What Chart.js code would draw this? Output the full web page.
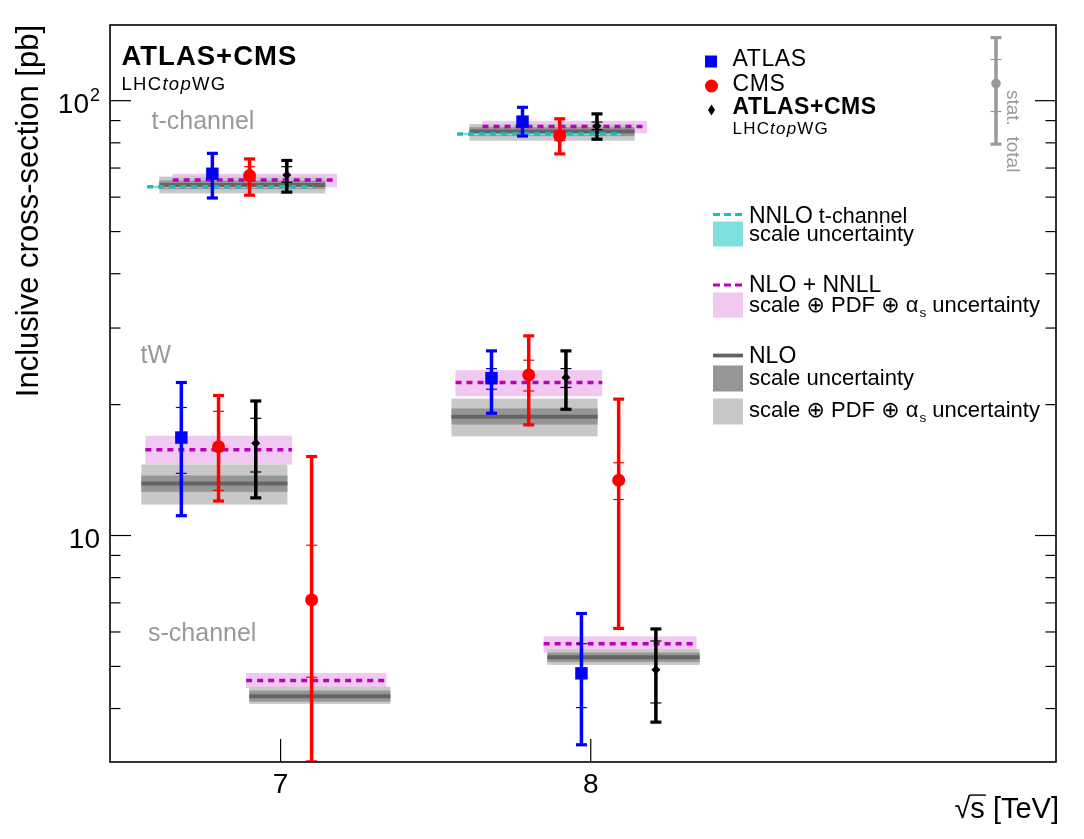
<!DOCTYPE html>
<html>
<head>
<meta charset="utf-8">
<script src="https://cdn.jsdelivr.net/npm/chart.js@4/dist/chart.umd.min.js"></script>
<style>
html,body{margin:0;padding:0;background:#ffffff;}
canvas{display:block;}
</style>
</head>
<body>
<canvas id="c" width="1084" height="839"></canvas>
<script>
// ---------------- axis / tick data ----------------
const xMin = 6.45, xMax = 9.5;
const yMin = 3.014, yMax = 149.3;
const xTickValues = [7, 8];
const xTickLabels = ['7', '8'];
const yTickValues = [3, 4, 5, 6, 7, 8, 9, 10, 20, 30, 40, 50, 60, 70, 80, 90, 100];
const yLabelValues = [10, 100];
const yLabelBase = ['10', '10'];
const yLabelSup = ['', '2'];

// ---------------- measurements ----------------
// order: t-ch 7, t-ch 8, tW 7, tW 8, s-ch 8
const atlasX      = [6.78, 7.78, 6.68, 7.68, 7.97];
const atlasVal    = [67.9, 89.5, 16.8, 23.0, 4.82];
const atlasTotLo  = [59.7, 82.9, 11.1, 19.1, 3.30];
const atlasTotHi  = [75.7, 96.6, 22.5, 26.6, 6.62];
const atlasStatLo = [66.3, 87.6, 13.9, 21.7, 4.02];
const atlasStatHi = [69.5, 91.4, 19.7, 24.2, 5.64];

// order: t-ch 7, t-ch 8, tW 7, tW 8, s-ch 7, s-ch 8
const cmsX      = [6.90, 7.90, 6.80, 7.80, 7.10, 8.09];
const cmsVal    = [67.25, 83.1, 16.0, 23.4, 7.11, 13.4];
const cmsTotLo  = [60.6, 75.4, 12.0, 17.96, 3.014, 6.11];
const cmsTotHi  = [73.5, 90.9, 21.0, 28.8, 15.2, 20.6];
const cmsStatLo = [64.0, 81.0, 12.7, 21.5, 4.72, 12.1];
const cmsStatHi = [70.5, 85.2, 19.3, 25.3, 9.5, 14.7];

// order: t-ch 7, t-ch 8, tW 7, tW 8, s-ch 8
const combX      = [7.02, 8.02, 6.92, 7.92, 8.21];
const combVal    = [67.5, 87.5, 16.3, 23.1, 4.91];
const combTotLo  = [61.6, 81.5, 12.2, 19.5, 3.72];
const combTotHi  = [72.9, 93.3, 20.4, 26.6, 6.10];
const combStatLo = [64.9, 85.8, 14.0, 21.9, 4.12];
const combStatHi = [70.5, 89.3, 18.6, 24.2, 5.72];

// ---------------- theory ----------------
// NNLO t-channel (7, 8 TeV)
const nnloXLo = [6.570, 7.569];
const nnloXHi = [7.105, 8.096];
const nnloVal = [63.4, 83.8];
const nnloLo  = [63.0, 83.3];
const nnloHi  = [63.8, 84.3];
// NLO+NNLL: t7, t8, tW7, tW8, s7, s8
const nnllXLo = [6.652, 7.651, 6.564, 7.564, 6.889, 7.848];
const nnllXHi = [7.182, 8.182, 7.037, 8.037, 7.341, 8.341];
const nnllVal = [65.7, 87.2, 15.75, 22.5, 4.64, 5.64];
const nnllLo  = [63.2, 84.1, 14.56, 20.9, 4.46, 5.38];
const nnllHi  = [67.9, 89.9, 16.96, 24.0, 4.83, 5.86];
// NLO: t7, t8, tW7, tW8, s7, s8
const nloXLo     = [6.609, 7.609, 6.551, 7.551, 6.899, 7.860];
const nloXHi     = [7.144, 8.141, 7.022, 8.022, 7.354, 8.351];
const nloVal     = [64.0, 84.9, 13.17, 18.75, 4.27, 5.25];
const nloScaleLo = [62.6, 82.9, 12.6, 18.0, 4.15, 5.12];
const nloScaleHi = [65.5, 86.9, 13.74, 19.6, 4.40, 5.38];
const nloTotLo   = [61.2, 80.9, 11.78, 16.9, 4.10, 5.04];
const nloTotHi   = [66.9, 88.4, 14.56, 20.65, 4.49, 5.48];

// ---------------- styles ----------------
const FONT = '"Liberation Sans", Arial, Helvetica, "DejaVu Sans", sans-serif';
const C_PINK = '#f0c8f0', C_MAG = '#bb00bb';
const C_CYANBAND = '#80e0e0', C_CYAN = '#20bcbc';
const C_LGRAY = '#c8c8c8', C_DGRAY = '#969696', C_NLO = '#646464';
const C_LABEL = '#999999';

function mkLine(xl, xh, v, color, width, dash, order) {
  return {type: 'line', data: [{x: xl, y: v}, {x: xh, y: v}], borderColor: color,
    borderWidth: width, borderDash: dash, borderCapStyle: 'butt', pointRadius: 0,
    pointHoverRadius: 0, fill: false, tension: 0, order: order};
}

const datasets = [];
nloVal.forEach((v, i) => datasets.push(mkLine(nloXLo[i], nloXHi[i], v, C_NLO, 4, [], 30)));
nnloVal.forEach((v, i) => datasets.push(mkLine(nnloXLo[i], nnloXHi[i], v, C_CYAN, 3.5, [6, 5], 20)));
nnllVal.forEach((v, i) => datasets.push(mkLine(nnllXLo[i], nnllXHi[i], v, C_MAG, 3.5, [6, 5], 10)));

datasets.push({type: 'scatter', label: 'ATLAS', order: 3, pointStyle: 'rect', pointRadius: 8.8,
  backgroundColor: '#0000ff', borderColor: '#0000ff', borderWidth: 0,
  data: atlasX.map((x, i) => ({x: x, y: atlasVal[i]})),
  err: {x: atlasX, lo: atlasTotLo, hi: atlasTotHi, slo: atlasStatLo, shi: atlasStatHi, color: '#0000ff'}});
datasets.push({type: 'scatter', label: 'CMS', order: 2, pointStyle: 'circle', pointRadius: 6.5,
  backgroundColor: '#ff0000', borderColor: '#ff0000', borderWidth: 0,
  data: cmsX.map((x, i) => ({x: x, y: cmsVal[i]})),
  err: {x: cmsX, lo: cmsTotLo, hi: cmsTotHi, slo: cmsStatLo, shi: cmsStatHi, color: '#ff0000'}});
datasets.push({type: 'scatter', label: 'ATLAS+CMS', order: 1, pointStyle: 'rectRot', pointRadius: 4.5,
  backgroundColor: '#000000', borderColor: '#000000', borderWidth: 0,
  data: combX.map((x, i) => ({x: x, y: combVal[i]})),
  err: {x: combX, lo: combTotLo, hi: combTotHi, slo: combStatLo, shi: combStatHi, color: '#000000'}});

function hline(ctx, x1, x2, y) { ctx.beginPath(); ctx.moveTo(x1, y); ctx.lineTo(x2, y); ctx.stroke(); }
function vline(ctx, x, y1, y2) { ctx.beginPath(); ctx.moveTo(x, y1); ctx.lineTo(x, y2); ctx.stroke(); }

function txt(ctx, s, x, y, size, o) {
  o = o || {};
  ctx.font = (o.italic ? 'italic ' : '') + (o.bold ? 'bold ' : '') + size + 'px ' + FONT;
  ctx.fillStyle = o.color || '#000000';
  ctx.textAlign = o.align || 'left';
  ctx.textBaseline = o.baseline || 'alphabetic';
  ctx.letterSpacing = (o.ls || 0) + 'px';
  ctx.fillText(s, x, y);
  const w = ctx.measureText(s).width;
  ctx.letterSpacing = '0px';
  return w;
}
function measure(ctx, s, size) { ctx.font = size + 'px ' + FONT; return ctx.measureText(s).width; }
function lhcTopWG(ctx, x, y, size, ls) {
  x += txt(ctx, 'LHC', x, y, size, {ls: ls});
  x += txt(ctx, 'top', x, y, size, {italic: true, ls: ls});
  txt(ctx, 'WG', x, y, size, {ls: ls});
}
function scalePdf(ctx, x, y, size) {
  x += txt(ctx, 'scale \u2295 PDF \u2295 \u03B1', x, y, size);
  x += txt(ctx, 's', x + 1, y + 5, size * 0.62) + 1;
  txt(ctx, ' uncertainty', x, y, size);
}

const bandsPlugin = {
  id: 'bands',
  beforeDatasetsDraw(chart) {
    const {ctx, chartArea: a, scales: {x, y}} = chart;
    ctx.save();
    ctx.beginPath(); ctx.rect(a.left, a.top, a.right - a.left, a.bottom - a.top); ctx.clip();
    const box = (xl, xh, lo, hi, col) => {
      const px1 = x.getPixelForValue(xl), px2 = x.getPixelForValue(xh);
      const py1 = y.getPixelForValue(hi), py2 = y.getPixelForValue(lo);
      ctx.fillStyle = col; ctx.fillRect(px1, py1, px2 - px1, py2 - py1);
    };
    nnllVal.forEach((v, i) => box(nnllXLo[i], nnllXHi[i], nnllLo[i], nnllHi[i], C_PINK));
    nloVal.forEach((v, i) => box(nloXLo[i], nloXHi[i], nloTotLo[i], nloTotHi[i], C_LGRAY));
    nloVal.forEach((v, i) => box(nloXLo[i], nloXHi[i], nloScaleLo[i], nloScaleHi[i], C_DGRAY));
    nnloVal.forEach((v, i) => box(nnloXLo[i], nnloXHi[i], nnloLo[i], nnloHi[i], C_CYANBAND));
    ctx.restore();
  },
  beforeDatasetDraw(chart, args) {
    const ds = chart.data.datasets[args.index];
    if (!ds.err) return;
    const {ctx, chartArea: a, scales: {x, y}} = chart;
    const e = ds.err;
    ctx.save();
    ctx.beginPath(); ctx.rect(a.left, a.top, a.right - a.left, a.bottom - a.top); ctx.clip();
    ctx.strokeStyle = e.color; ctx.fillStyle = e.color;
    e.x.forEach((xv, i) => {
      const px = x.getPixelForValue(xv);
      const pt = y.getPixelForValue(e.hi[i]), pb = y.getPixelForValue(e.lo[i]);
      ctx.lineWidth = 3.5; ctx.setLineDash([]);
      vline(ctx, px, pt, pb);
      ctx.fillRect(px - 5.5, pt - 1.5, 11, 3.2);
      ctx.fillRect(px - 5.5, pb - 1.7, 11, 3.2);
      ctx.lineWidth = 1.2;
      hline(ctx, px - 5.5, px + 5.5, y.getPixelForValue(e.slo[i]));
      hline(ctx, px - 5.5, px + 5.5, y.getPixelForValue(e.shi[i]));
    });
    ctx.restore();
  },
  afterDatasetsDraw(chart) {
    const {ctx, chartArea: a, scales: {x, y}} = chart;
    ctx.save();
    // frame
    ctx.strokeStyle = '#000000'; ctx.lineWidth = 1.6; ctx.setLineDash([]);
    ctx.strokeRect(a.left, a.top, a.right - a.left, a.bottom - a.top);
    // ticks
    ctx.lineWidth = 1.2;
    yTickValues.filter(v => v >= yMin && v <= yMax).forEach(v => {
      const py = y.getPixelForValue(v);
      const len = yLabelValues.includes(v) ? 21 : 10.5;
      hline(ctx, a.left, a.left + len, py);
      hline(ctx, a.right, a.right - len, py);
    });
    xTickValues.forEach(v => {
      const px = x.getPixelForValue(v);
      vline(ctx, px, a.bottom, a.bottom - 23);
    });
    // tick labels
    yLabelValues.forEach((v, i) => {
      const py = y.getPixelForValue(v) + 5;
      const supW = yLabelSup[i] ? measure(ctx, yLabelSup[i], 18) + 1 : 0;
      const right = a.left - 10;
      txt(ctx, yLabelBase[i], right - supW, py, 28, {align: 'right', baseline: 'middle'});
      if (yLabelSup[i]) txt(ctx, yLabelSup[i], right - supW + 1, py - 5, 18, {baseline: 'alphabetic'});
    });
    xTickValues.forEach((v, i) => {
      txt(ctx, xTickLabels[i], x.getPixelForValue(v), a.bottom + 31, 28, {align: 'center'});
    });
    // axis titles
    ctx.save();
    ctx.translate(29.5, a.top);
    ctx.rotate(-Math.PI / 2);
    txt(ctx, 'Inclusive cross-section [pb]', 0, 0, 31, {align: 'right', baseline: 'middle'});
    ctx.restore();
    {
      const size = 29, base = 818;
      ctx.font = size + 'px ' + FONT;
      const wSq = ctx.measureText('\u221A').width;
      const wS = ctx.measureText('s').width;
      const wRest = ctx.measureText(' [TeV]').width;
      const x0 = a.right + 3 - (wSq + wS + wRest);
      txt(ctx, '\u221A', x0, base, size);
      txt(ctx, 's', x0 + wSq, base, size);
      txt(ctx, ' [TeV]', x0 + wSq + wS, base, size);
      ctx.strokeStyle = '#000'; ctx.lineWidth = 1.4;
      hline(ctx, x0 + wSq - 1, x0 + wSq + wS + 1, base - size * 0.79);
    }
    // process labels
    txt(ctx, 't-channel', 151.5, 129, 25, {color: C_LABEL});
    txt(ctx, 'tW', 140.5, 363, 25, {color: C_LABEL});
    txt(ctx, 's-channel', 148, 641, 25, {color: C_LABEL});
    // top-left tag
    txt(ctx, 'ATLAS+CMS', 121.5, 65, 27.5, {bold: true, ls: 1});
    lhcTopWG(ctx, 121.5, 90, 18.5, 1.3);

    // legend: experiments
    ctx.fillStyle = '#0000ff'; ctx.fillRect(705, 55.5, 12, 12);
    ctx.fillStyle = '#ff0000'; ctx.beginPath(); ctx.arc(711.5, 86, 6.5, 0, Math.PI * 2); ctx.fill();
    ctx.fillStyle = '#000000'; ctx.beginPath();
    ctx.moveTo(711.5, 104.5); ctx.lineTo(715, 110); ctx.lineTo(711.5, 115.5); ctx.lineTo(708, 110); ctx.closePath(); ctx.fill();
    txt(ctx, 'ATLAS', 732.5, 66, 23, {ls: 0.6});
    txt(ctx, 'CMS', 732.5, 90.5, 23, {ls: 0.6});
    txt(ctx, 'ATLAS+CMS', 732.5, 114, 23, {bold: true, ls: 0.5});
    lhcTopWG(ctx, 732.5, 134, 17, 1.2);

    // legend: theory
    ctx.setLineDash([7, 4]); ctx.lineWidth = 3.2; ctx.strokeStyle = C_CYAN;
    hline(ctx, 713, 743, 214.5);
    ctx.fillStyle = C_CYANBAND; ctx.fillRect(713, 221.5, 30, 25);
    ctx.strokeStyle = C_MAG;
    hline(ctx, 713, 743, 285);
    ctx.fillStyle = C_PINK; ctx.fillRect(713, 292.5, 30, 25);
    ctx.setLineDash([]);
    ctx.strokeStyle = C_NLO; ctx.lineWidth = 3.8;
    hline(ctx, 713, 743, 355.5);
    ctx.fillStyle = C_DGRAY; ctx.fillRect(713, 365.5, 30, 26);
    ctx.fillStyle = C_LGRAY; ctx.fillRect(713, 398.5, 30, 26);

    let xx = 749;
    xx += txt(ctx, 'NNLO', xx, 222.5, 23);
    txt(ctx, ' t-channel', xx, 222.5, 21.5);
    txt(ctx, 'scale uncertainty', 749, 240.5, 22);
    txt(ctx, 'NLO + NNLL', 749, 291.5, 23);
    scalePdf(ctx, 749, 311.5, 22);
    txt(ctx, 'NLO', 749, 363, 23);
    txt(ctx, 'scale uncertainty', 749, 385, 22);
    scalePdf(ctx, 749, 417, 22);

    // legend: stat / total
    ctx.strokeStyle = C_LABEL; ctx.fillStyle = C_LABEL;
    ctx.lineWidth = 3.5;
    vline(ctx, 996, 37.5, 144);
    ctx.fillRect(990.5, 36, 11, 3.2);
    ctx.fillRect(990.5, 142.5, 11, 3.2);
    ctx.lineWidth = 1.2;
    hline(ctx, 990.5, 1001.5, 59.5);
    hline(ctx, 990.5, 1001.5, 111.5);
    ctx.beginPath(); ctx.arc(996, 83.5, 4.8, 0, Math.PI * 2); ctx.fill();
    ctx.save();
    ctx.translate(1003, 90);
    ctx.rotate(Math.PI / 2);
    txt(ctx, 'stat.  total', 0, 0, 19, {color: C_LABEL, baseline: 'bottom'});
    ctx.restore();

    ctx.restore();
  }
};

new Chart(document.getElementById('c'), {
  type: 'scatter',
  data: {datasets: datasets},
  options: {
    responsive: false,
    animation: false,
    devicePixelRatio: 1,
    events: [],
    layout: {padding: {left: 0, top: 25, right: 28, bottom: 0}},
    plugins: {legend: {display: false}, tooltip: {enabled: false}, title: {display: false}},
    scales: {
      x: {
        type: 'linear', min: xMin, max: xMax, bounds: 'data',
        grid: {display: false}, border: {display: false},
        ticks: {display: false},
        afterBuildTicks: s => { s.ticks = xTickValues.map(v => ({value: v})); },
        afterFit: s => { s.height = 77; }
      },
      y: {
        type: 'logarithmic', min: yMin, max: yMax, bounds: 'data',
        grid: {display: false}, border: {display: false},
        ticks: {display: false},
        afterBuildTicks: s => { s.ticks = yTickValues.map(v => ({value: v})); },
        afterFit: s => { s.width = 110; }
      }
    }
  },
  plugins: [bandsPlugin]
});
</script>
</body>
</html>
